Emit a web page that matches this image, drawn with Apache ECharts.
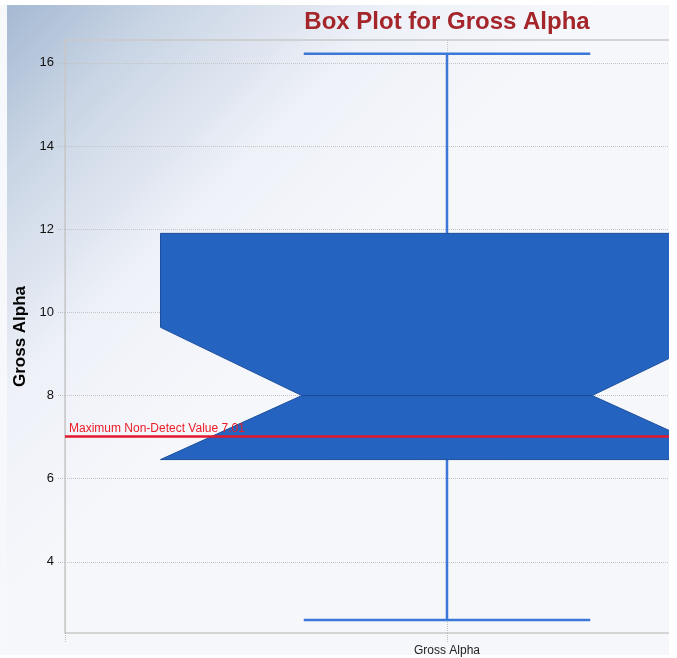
<!DOCTYPE html>
<html>
<head>
<meta charset="utf-8">
<script src="https://cdn.jsdelivr.net/npm/echarts@6/dist/echarts.min.js"></script>
<style>
  html, body { margin: 0; padding: 0; background: #ffffff; }
  #chart { width: 677px; height: 658px; }
</style>
</head>
<body>
<div id="chart"></div>
<script>
// ---- data ----
const categories = ['Gross Alpha'];
const lowWhisker = [2.60];
const q1 = [6.46];
const notchLow = [6.46];
const median = [8.00];
const notchHigh = [9.64];
const q3 = [11.90];
const highWhisker = [16.22];
const yTicks = [4, 6, 8, 10, 12, 14, 16];
const yMin = 2.29;
const yMax = 16.55;
const maxNonDetect = 7.01;
const maxNonDetectLabel = 'Maximum Non-Detect Value 7.01';

// padded category axis so the single box sits in the middle of a wide band
const axisCategories = [''].concat(categories).concat(['']);
const boxData = categories.map((c, i) => [
  i + 1, lowWhisker[i], q1[i], notchLow[i], median[i], notchHigh[i], q3[i], highWhisker[i]
]);

const chart = echarts.init(document.getElementById('chart'), null, { renderer: 'canvas' });

function renderNotchedBox(params, api) {
  const xi = api.value(0);
  const band = api.size([1, 0])[0];
  const cx = api.coord([xi, api.value(4)])[0];
  const y = (v) => api.coord([xi, v])[1];
  const yLow = y(api.value(1)), yQ1 = y(api.value(2)), yNL = y(api.value(3));
  const yMed = y(api.value(4)), yNH = y(api.value(5)), yQ3 = y(api.value(6)), yHigh = y(api.value(7));
  const half = band * 0.75;
  const capHalf = band * 0.375;
  const notchHalf = band * 0.38;
  const L = cx - half, R = cx + half, NL = cx - notchHalf, NR = cx + notchHalf;
  const whiskerStyle = { stroke: '#3b78d8', lineWidth: 2.5, fill: null };
  return {
    type: 'group',
    children: [
      { type: 'line', shape: { x1: cx, y1: yHigh, x2: cx, y2: yLow }, style: whiskerStyle },
      { type: 'line', shape: { x1: cx - capHalf, y1: yHigh, x2: cx + capHalf, y2: yHigh }, style: whiskerStyle },
      { type: 'line', shape: { x1: cx - capHalf, y1: yLow, x2: cx + capHalf, y2: yLow }, style: whiskerStyle },
      {
        type: 'polygon',
        shape: {
          points: [
            [L, yQ3], [R, yQ3], [R, yNH], [NR, yMed], [R, yNL], [R, yQ1],
            [L, yQ1], [L, yNL], [NL, yMed], [L, yNH]
          ]
        },
        style: { fill: '#2563c0', stroke: '#1d4f9c', lineWidth: 1 }
      },
      { type: 'line', shape: { x1: NL, y1: yMed, x2: NR, y2: yMed }, style: { stroke: '#1b4a92', lineWidth: 1 } }
    ]
  };
}

const option = {
  backgroundColor: '#ffffff',
  animation: false,
  title: {
    text: 'Box Plot for Gross Alpha',
    left: 442,
    top: 5,
    textAlign: 'center',
    textStyle: { color: '#a4262b', fontSize: 24, fontWeight: 'bold', fontFamily: 'Liberation Sans, Arial, sans-serif' }
  },
  graphic: {
    elements: [
      {
        type: 'rect', z: -10, silent: true,
        shape: { x: 7, y: 5, width: 662, height: 650 },
        style: {
          fill: new echarts.graphic.LinearGradient(0, 0, 1, 1, [
            { offset: 0, color: '#a5b9d2' },
            { offset: 0.12, color: '#c8d4e4' },
            { offset: 0.3, color: '#eef1f8' },
            { offset: 0.45, color: '#f5f7fb' },
            { offset: 1, color: '#f5f7fb' }
          ])
        }
      },
      {
        type: 'rect', z: -10, silent: true,
        shape: { x: 0, y: 5, width: 7, height: 650 },
        style: { fill: '#f7f8fb' }
      },
      {
        type: 'rect', z: 100, silent: true,
        shape: { x: 669, y: 0, width: 8, height: 658 },
        style: { fill: '#ffffff' }
      }
    ]
  },
  grid: {
    left: 65,
    top: 40,
    right: -152,
    bottom: 25,
    show: true,
    backgroundColor: 'transparent',
    borderColor: '#c9c9c9',
    borderWidth: 1.5,
    containLabel: false,
    outerBoundsMode: 'none'
  },
  xAxis: {
    type: 'category',
    data: axisCategories,
    boundaryGap: false,
    axisLine: { show: false },
    axisTick: { show: true, length: 10, lineStyle: { color: '#bdbdbd', type: 'dotted' } },
    axisLabel: { color: '#222222', fontSize: 12, margin: 12, fontFamily: 'Liberation Sans, Arial, sans-serif' },
    splitLine: { show: true, lineStyle: { color: '#c4c4c4', type: 'dotted', width: 1 } }
  },
  yAxis: {
    type: 'value',
    min: yMin,
    max: yMax,
    splitNumber: 7,
    name: 'Gross Alpha',
    nameLocation: 'middle',
    nameGap: 35,
    nameRotate: 90,
    nameTextStyle: { color: '#000000', fontSize: 17, fontWeight: 'bold', fontFamily: 'Liberation Sans, Arial, sans-serif' },
    axisLine: { show: false },
    axisTick: { show: true, length: 8, customValues: yTicks, lineStyle: { color: '#bdbdbd', type: 'dotted' } },
    axisLabel: {
      customValues: yTicks,
      color: '#111111', fontSize: 13, margin: 11,
      fontFamily: 'Liberation Sans, Arial, sans-serif'
    },
    splitLine: { show: true, lineStyle: { color: '#c4c4c4', type: 'dotted', width: 1 } }
  },
  series: [
    {
      type: 'custom',
      name: 'Gross Alpha',
      renderItem: renderNotchedBox,
      encode: { x: 0, y: [1, 2, 3, 4, 5, 6, 7] },
      data: boxData,
      clip: false,
      z: 2,
      markLine: {
        silent: true,
        symbol: ['none', 'none'],
        z: 5,
        lineStyle: { color: '#e3172d', width: 2.5, type: 'solid' },
        label: {
          show: true,
          position: 'insideStartTop',
          distance: [4, 2],
          formatter: maxNonDetectLabel,
          color: '#ee1c25',
          fontSize: 12,
          fontFamily: 'Liberation Sans, Arial, sans-serif'
        },
        data: [{ yAxis: maxNonDetect }]
      }
    }
  ]
};

chart.setOption(option);
</script>
</body>
</html>
